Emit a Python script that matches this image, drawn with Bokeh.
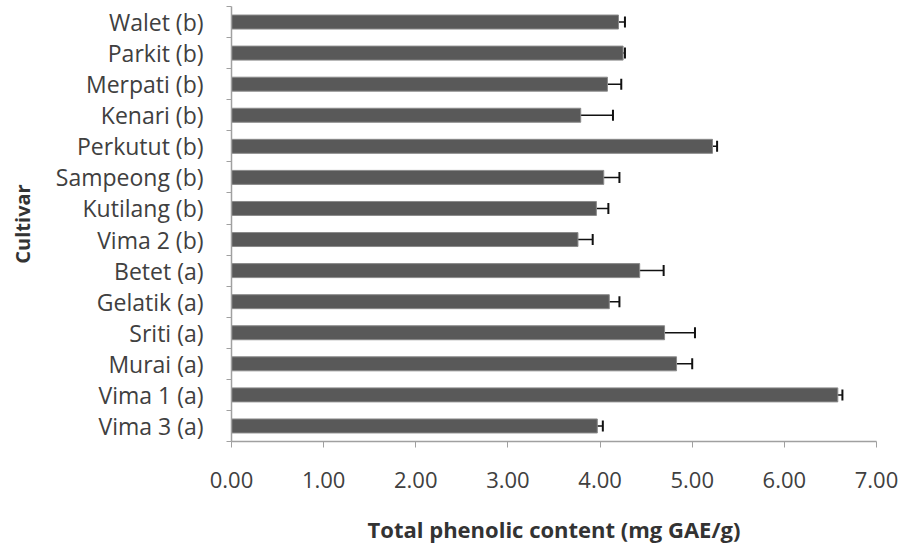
from bokeh.plotting import figure
from bokeh.models import Range1d, FixedTicker, NumeralTickFormatter, Whisker, TeeHead, ColumnDataSource
from bokeh.embed import file_html
from bokeh.resources import INLINE

# Data (top to bottom as shown)
cultivars = ["Walet (b)", "Parkit (b)", "Merpati (b)", "Kenari (b)", "Perkutut (b)",
             "Sampeong (b)", "Kutilang (b)", "Vima 2 (b)", "Betet (a)", "Gelatik (a)",
             "Sriti (a)", "Murai (a)", "Vima 1 (a)", "Vima 3 (a)"]
phenolic = [4.20, 4.25, 4.08, 3.79, 5.22, 4.04, 3.96, 3.76, 4.43, 4.10, 4.70, 4.83, 6.58, 3.97]
errors = [0.07, 0.02, 0.15, 0.35, 0.05, 0.17, 0.13, 0.16, 0.26, 0.11, 0.33, 0.17, 0.05, 0.06]
x_ticks = [0, 1, 2, 3, 4, 5, 6, 7]

n = len(cultivars)
ys = [n - 1 - i for i in range(n)]
src = ColumnDataSource(dict(
    y=ys, v=phenolic,
    lo=[v - e for v, e in zip(phenolic, errors)],
    hi=[v + e for v, e in zip(phenolic, errors)],
))

FONT = "Open Sans"
AXIS_GRAY = "#a0a0a0"
TEXT = "#404040"

p = figure(width=903, height=546, output_backend="svg", toolbar_location=None,
           x_range=Range1d(0, 7), y_range=Range1d(-0.5, n - 0.5),
           min_border_left=231, min_border_right=27, min_border_top=6, min_border_bottom=100)
p.outline_line_color = None
p.xgrid.grid_line_color = None
p.ygrid.grid_line_color = None
p.background_fill_color = "white"

p.hbar(y="y", right="v", left=0, height=0.45, source=src,
       fill_color="#595959", line_color="#8a8a8a", line_width=1)

p.add_layout(Whisker(source=src, base="y", lower="lo", upper="hi", dimension="width",
                     line_color="#111111", line_width=1.5,
                     lower_head=TeeHead(size=11, line_color="#111111", line_width=2),
                     upper_head=TeeHead(size=11, line_color="#111111", line_width=2)))

# x axis
xa = p.xaxis[0]
xa.ticker = FixedTicker(ticks=x_ticks)
xa.formatter = NumeralTickFormatter(format="0.00")
xa.axis_line_color = AXIS_GRAY
xa.axis_line_width = 1.5
xa.major_tick_line_color = AXIS_GRAY
xa.major_tick_out = 6
xa.major_tick_in = 0
xa.minor_tick_line_color = None
xa.major_label_standoff = 24
xa.major_label_text_font = FONT
xa.major_label_text_font_size = "22px"
xa.major_label_text_color = TEXT
xa.axis_label = "Total phenolic content (mg GAE/g)"
xa.axis_label_text_font = FONT
xa.axis_label_text_font_size = "22px"
xa.axis_label_text_font_style = "bold"
xa.axis_label_text_color = "#333333"
xa.axis_label_standoff = 23

# y axis
ya = p.yaxis[0]
ya.ticker = FixedTicker(ticks=ys, minor_ticks=[k - 0.5 for k in range(n + 1)])
ya.major_label_overrides = {y: name for y, name in zip(ys, cultivars)}
ya.axis_line_color = AXIS_GRAY
ya.axis_line_width = 1.5
ya.major_tick_line_color = None
ya.minor_tick_line_color = AXIS_GRAY
ya.minor_tick_out = 5
ya.minor_tick_in = 0
ya.major_label_standoff = 22
ya.major_label_text_font = FONT
ya.major_label_text_font_size = "23px"
ya.major_label_text_color = TEXT
ya.axis_label = "Cultivar"
ya.axis_label_text_font = FONT
ya.axis_label_text_font_size = "20px"
ya.axis_label_text_font_style = "bold"
ya.axis_label_text_color = "#333333"
ya.axis_label_standoff = 17

open("out.html", "w").write(file_html(p, INLINE))
